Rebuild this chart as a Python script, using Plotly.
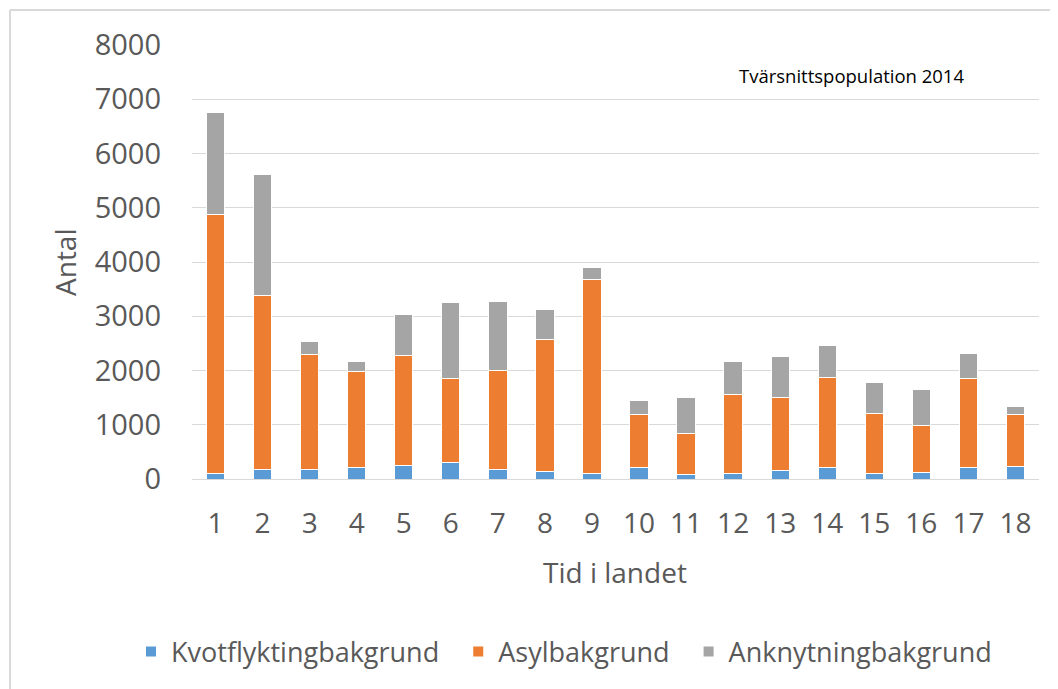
import plotly.graph_objects as go

categories = [str(i) for i in range(1, 19)]
kvot = [105, 178, 178, 203, 245, 300, 178, 135, 105, 203, 74, 105, 153, 209, 105, 129, 209, 227]
asyl_cum = [4877, 3377, 2297, 1977, 2272, 1848, 1995, 2566, 3672, 1185, 842, 1557, 1511, 1873, 1216, 989, 1848, 1185]
total = [6748, 5613, 2542, 2161, 3027, 3255, 3280, 3126, 3893, 1455, 1505, 2168, 2266, 2469, 1781, 1652, 2315, 1333]
asyl = [a - k for a, k in zip(asyl_cum, kvot)]
ankn = [t - a for t, a in zip(total, asyl_cum)]

series = [
    ("Kvotflyktingbakgrund", kvot, "#5B9BD5"),
    ("Asylbakgrund", asyl, "#ED7D31"),
    ("Anknytningbakgrund", ankn, "#A5A5A5"),
]

FONT = "Open Sans, Noto Sans, DejaVu Sans, sans-serif"
NB = "\u00a0"
fig = go.Figure()
for i, (name, vals, col) in enumerate(series):
    label = name + (NB * 2 if i < len(series) - 1 else "")
    fig.add_trace(go.Bar(x=categories, y=vals, name=label,
                         marker=dict(color=col, line=dict(color="white", width=1))))

OFF = 8  # page body margin
W, H = 1058 - OFF, 689 - OFF
L, R, T, B = 192 - OFF, 19, 45 - OFF, 210
pw, ph = W - L - R, H - T - B

def px(x):
    return (x - OFF - L) / pw

def py(y):
    return (H - B - (y - OFF)) / ph

fig.update_layout(
    width=W, height=H,
    margin=dict(l=L, r=R, t=T, b=B, pad=0, autoexpand=False),
    barmode="stack", bargap=0.61,
    plot_bgcolor="white", paper_bgcolor="white",
    font=dict(family=FONT, color="#595959"),
    showlegend=True,
    legend=dict(orientation="h", xref="paper", yref="paper",
                x=px(131), xanchor="left",
                y=py(652), yanchor="middle",
                font=dict(size=27, color="#595959"), itemsizing="constant",
                traceorder="normal", itemwidth=30),
    xaxis=dict(type="category", tickfont=dict(size=28, color="#595959"),
               showgrid=False, showline=True, linecolor="#D9D9D9", linewidth=1,
               ticks="", ticklabelstandoff=19),
    yaxis=dict(range=[0, 8000], dtick=1000, tickfont=dict(size=29, color="#595959"),
               showgrid=True, gridcolor="#D9D9D9", gridwidth=1, zeroline=False,
               ticks="", ticklabelstandoff=30, showline=False),
    annotations=[
        dict(text="Antal", x=px(65), y=py(262), xref="paper", yref="paper",
             textangle=-90, showarrow=False, font=dict(size=28, color="#595959"),
             xanchor="center", yanchor="middle"),
        dict(text="Tid i landet", x=px(615), y=py(572), xref="paper", yref="paper",
             showarrow=False, font=dict(size=28, color="#595959"),
             xanchor="center", yanchor="middle"),
        dict(text="Tvärsnittspopulation 2014", x=px(851), y=py(75), xref="paper", yref="paper",
             showarrow=False, font=dict(size=18.5, color="#000000", family=FONT),
             xanchor="center", yanchor="middle"),
    ],
    shapes=[
        dict(type="line", xref="paper", yref="paper", x0=px(10), x1=px(1058), y0=py(10), y1=py(10),
             line=dict(color="#D9D9D9", width=2)),
        dict(type="line", xref="paper", yref="paper", x0=px(10), x1=px(10), y0=py(10), y1=py(689),
             line=dict(color="#D9D9D9", width=2)),
    ],
)

fig.write_html("out.html")
